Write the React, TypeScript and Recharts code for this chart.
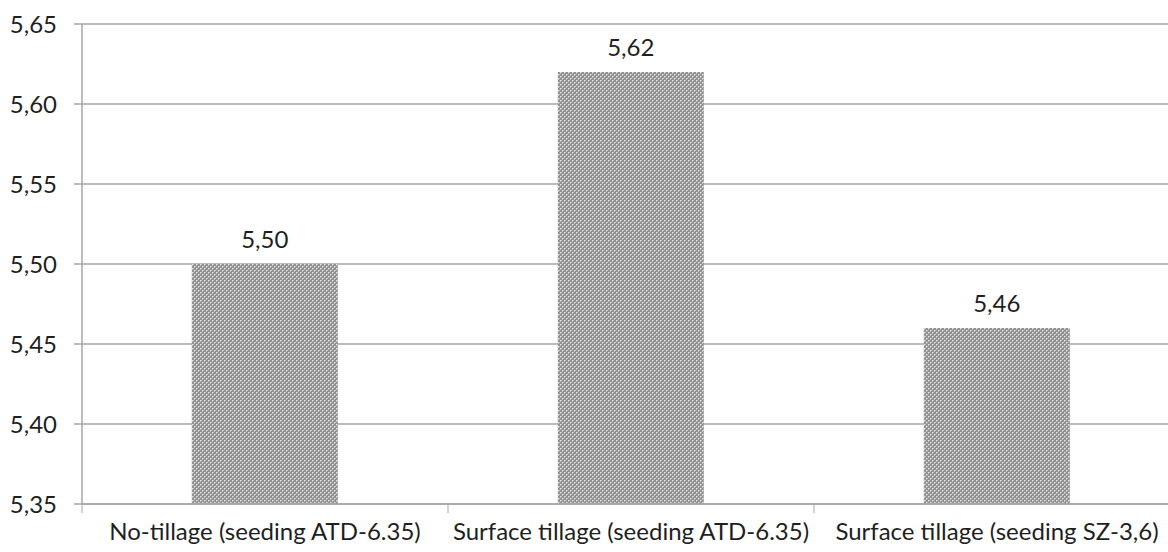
import React from 'react';
import { BarChart, Bar, XAxis, YAxis, CartesianGrid, LabelList } from 'recharts';

const categories = [
  'No-tillage (seeding ATD-6.35)',
  'Surface tillage (seeding ATD-6.35)',
  'Surface tillage (seeding SZ-3,6)',
];
const values = [5.5, 5.62, 5.46];
const yTicks = [5.35, 5.4, 5.45, 5.5, 5.55, 5.6, 5.65];

const data = categories.map((name, i) => ({ name, value: values[i] }));

const FONT = 'Lato, "Open Sans", sans-serif';
const TEXT = '#1f1f1f';
const LINE = '#a6a6a6';

const fmt = (v: number) => v.toFixed(2).replace('.', ',');

function CategoryTick(props: any) {
  const { x, y, payload, width } = props;
  const half = width / (2 * categories.length);
  return (
    <g>
      <line x1={x - half} y1={y - 8} x2={x - half} y2={y + 1} stroke={LINE} strokeWidth={1} />
      <text x={x} y={y + 28} textAnchor="middle" fontFamily={FONT} fontSize={24} fill={TEXT}>
        {payload.value}
      </text>
    </g>
  );
}

export default function App() {
  return (
    <div style={{ position: 'absolute', left: 0, top: 0, width: 1168, height: 552, overflow: 'hidden', background: '#fff' }}>
      <BarChart
        width={1200}
        height={552}
        data={data}
        margin={{ top: 24, right: 20, left: 0, bottom: 0 }}
        barCategoryGap="30%"
      >
        <defs>
          <pattern id="dots" width="4" height="4" patternUnits="userSpaceOnUse">
            <rect width="4" height="4" fill="#929292" />
            <rect x="0" y="0" width="1" height="1" fill="#e2e2e2" />
            <rect x="2" y="2" width="1" height="1" fill="#e2e2e2" />
            <rect x="1" y="0" width="1" height="1" fill="#c0c0c0" />
            <rect x="3" y="2" width="1" height="1" fill="#c0c0c0" />
            <rect x="0" y="1" width="1" height="1" fill="#c0c0c0" />
            <rect x="2" y="3" width="1" height="1" fill="#c0c0c0" />
          </pattern>
        </defs>
        <CartesianGrid vertical={false} stroke={LINE} strokeWidth={1.5} />
        <XAxis
          dataKey="name"
          height={48}
          axisLine={{ stroke: LINE, strokeWidth: 1.5 }}
          tickLine={false}
          tick={<CategoryTick />}
          interval={0}
        />
        <YAxis
          width={82}
          domain={[5.35, 5.65]}
          ticks={yTicks}
          tickFormatter={fmt}
          allowDataOverflow
          axisLine={{ stroke: LINE, strokeWidth: 1.5 }}
          tickLine={{ stroke: LINE, strokeWidth: 1.5 }}
          tickSize={8}
          tickMargin={17}
          tick={{ fontFamily: FONT, fontSize: 24, fill: TEXT }}
        />
        <Bar dataKey="value" fill="url(#dots)" isAnimationActive={false}>
          <LabelList
            dataKey="value"
            position="top"
            offset={16}
            formatter={(v: any) => fmt(Number(v))}
            style={{ fontFamily: FONT, fontSize: 24, fill: TEXT }}
          />
        </Bar>
      </BarChart>
    </div>
  );
}
